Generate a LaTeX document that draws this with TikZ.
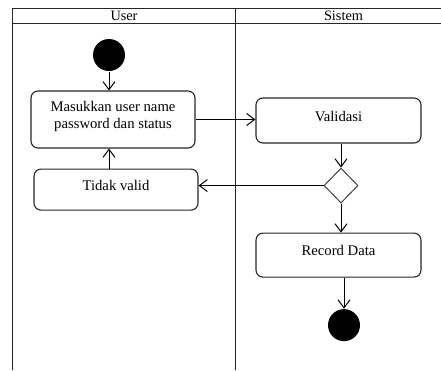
\documentclass[tikz,border=0pt]{standalone}
\usepackage{fontspec}
\setmainfont{Liberation Serif}
\usetikzlibrary{positioning,arrows.meta,shapes.geometric,calc}

\tikzset{
    lane/.style={line width=1pt, black!85},
    act/.style={draw=black!85, line width=1.1pt, rounded corners=7pt, minimum width=164pt,
        font=\fontsize{14.7}{17}\selectfont, text height=10pt, text depth=9pt},
    dot/.style={circle, fill=black, minimum size=32pt, inner sep=0pt},
    choice/.style={diamond, draw=black!75, line width=1pt, minimum width=34pt, minimum height=35pt, inner sep=0pt},
    head/.style={font=\fontsize{14.3}{15}\selectfont, inner sep=0pt},
}

\begin{document}
\begin{tikzpicture}[x=1pt, y=-1pt, >={Straight Barb[length=8pt,width=12pt]}, line width=1pt]

    \useasboundingbox (0,0) rectangle (441,370);

    % swimlanes
    \draw[lane] (12,370) -- (12,8) -- (441,8);
    \draw[lane] (12,23.3) -- (441,23.3);
    \draw[lane] (235.7,8) -- (235.7,370);
    \node (user) [head] at (124,15.8) {User};
    \node (sistem) [head] at (343.5,15.8) {Sistem};

    % activities
    \node (start) [dot] at (109,55) {};
    \node (masuk) [act, minimum height=57pt, text height=20.7pt, text depth=19pt] at (113,119.5)
        {\begin{tabular}{@{}c@{}}Masukkan user name\\password dan status\end{tabular}};
    \node (tidak) [act, minimum height=41pt, below=20pt of masuk, xshift=3pt] {Tidak valid};
    \node (valid) [act, minimum width=165pt, minimum height=45pt] at (338.5,120.5) {Validasi};
    \node (cek) [choice, below=24pt of valid, xshift=2.5pt] {};
    \node (record) [act, minimum width=165pt, minimum height=44pt, below=29pt of cek, xshift=-2.5pt] {Record Data};
    \node (stop) [dot, below=31pt of record, xshift=5.5pt] {};

    % flows
    \path[->] (start) edge (start |- masuk.north);
    \path[->] (tidak.north -| start) edge (start |- masuk.south);
    \path[->] (masuk.east) edge (masuk.east -| valid.west);
    \path[->] (valid.south -| cek) edge (cek.north);
    \path[->] (cek.west) edge (cek.west -| tidak.east);
    \path[->] (cek.south) edge (cek.south |- record.north);
    \path[->] (record.south -| stop) edge (stop.north);

\end{tikzpicture}
\end{document}
